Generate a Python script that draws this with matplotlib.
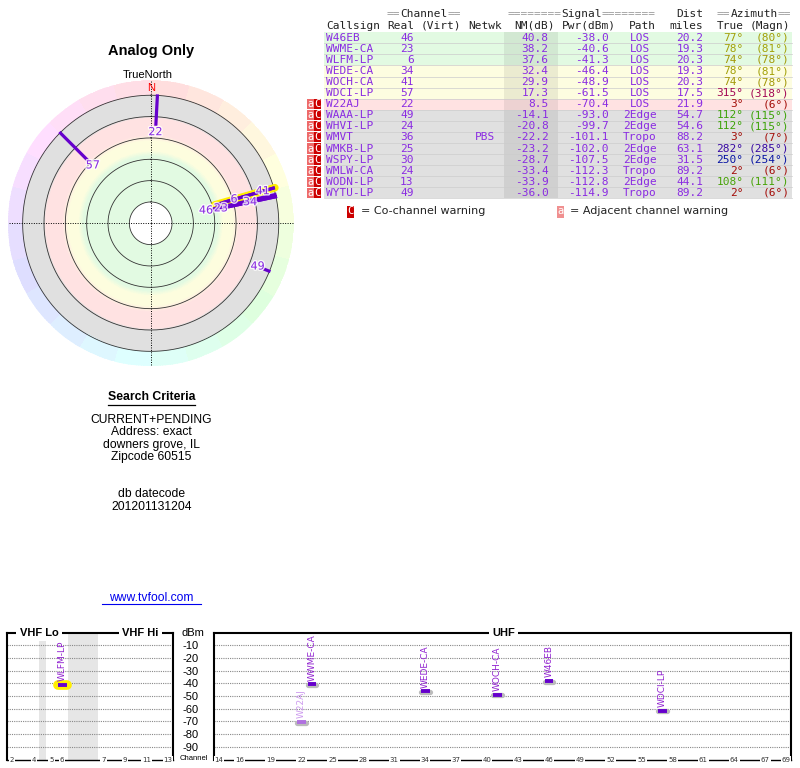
import colorsys
import numpy as np
import matplotlib
matplotlib.use("Agg")
import matplotlib.pyplot as plt
from matplotlib.patches import Rectangle
import matplotlib.patheffects as pe

# ---- station data ----
callsigns = ['W46EB', 'WWME-CA', 'WLFM-LP', 'WEDE-CA', 'WOCH-CA', 'WDCI-LP', 'W22AJ',
             'WAAA-LP', 'WHVI-LP', 'WMVT', 'WMKB-LP', 'WSPY-LP', 'WMLW-CA', 'WODN-LP', 'WYTU-LP']
real_ch = [46, 23, 6, 34, 41, 57, 22, 49, 24, 36, 25, 30, 24, 13, 49]
netwk = ['', '', '', '', '', '', '', '', '', 'PBS', '', '', '', '', '']
nm_db = [40.8, 38.2, 37.6, 32.4, 29.9, 17.3, 8.5, -14.1, -20.8, -22.2, -23.2, -28.7, -33.4, -33.9, -36.0]
pwr_dbm = [-38.0, -40.6, -41.3, -46.4, -48.9, -61.5, -70.4, -93.0, -99.7, -101.1, -102.0,
           -107.5, -112.3, -112.8, -114.9]
path = ['LOS'] * 7 + ['2Edge', '2Edge', 'Tropo', '2Edge', '2Edge', 'Tropo', '2Edge', 'Tropo']
dist_mi = [20.2, 19.3, 20.3, 19.3, 20.3, 17.5, 21.9, 54.7, 54.6, 88.2, 63.1, 31.5, 89.2, 44.1, 89.2]
az_true = [77, 78, 74, 78, 74, 315, 3, 112, 112, 3, 282, 250, 2, 108, 2]
az_magn = [80, 81, 78, 81, 78, 318, 6, 115, 115, 7, 285, 254, 6, 111, 6]
warnings = [''] * 6 + ['aC'] * 9
highlight = 'WLFM-LP'

vhf_ticks = [2, 4, 5, 6, 7, 9, 11, 13]
uhf_ticks = [14, 16, 19, 22, 25, 28, 31, 34, 37, 40, 43, 46, 49, 52, 55, 58, 61, 64, 67, 69]
dbm_ticks = [-10, -20, -30, -40, -50, -60, -70, -80, -90]

criteria = ['CURRENT+PENDING', 'Address: exact', 'downers grove, IL', 'Zipcode 60515']
datecode = ['db datecode', '201201131204']

PURPLE = '#6600cc'
PURPLE_TXT = '#8a2be2'
SANS = 'Liberation Sans'
MONO = 'DejaVu Sans Mono'

W, H = 800, 768
fig = plt.figure(figsize=(8, 7.68), dpi=100)


def px_rect(x0, y0, x1, y1):
    return [x0 / W, (H - y1) / H, (x1 - x0) / W, (y1 - y0) / H]


def row_color(nm):
    if nm >= 35:
        return '#e2fae2'
    if nm >= 15:
        return '#fdfde0'
    if nm >= 0:
        return '#ffe2e2'
    return '#e0e0e0'


# azimuth -> hue, roughly as the report colours it
hue_az = [0, 77, 112, 250, 282, 315, 360]
hue_deg = [0, 58, 100, 235, 258, 330, 360]
def az_color(a):
    h = np.interp(a % 360, hue_az, hue_deg) / 360.0
    return colorsys.hsv_to_rgb(h, 0.95, 0.64)


# ---- overlay in pixel coordinates (table + text) ----
ov = fig.add_axes([0, 0, 1, 1])
ov.set_xlim(0, W)
ov.set_ylim(H, 0)
ov.axis('off')

cw = 0.6021 * 8 * 100 / 72  # mono char width in px
def seg_text(x, y, parts):
    for s, col in parts:
        ov.text(x, y, s, family=MONO, fontsize=8, color=col, ha='left', va='center')
        x += cw * len(s)

seg_text(387, 14, [('==', '#999999'), ('Channel', '#222222'), ('==', '#999999')])
seg_text(508, 14, [('========', '#999999'), ('Signal', '#222222'), ('========', '#999999')])
ov.text(703.5, 14, 'Dist', family=MONO, fontsize=8, color='#222', ha='right', va='center')
seg_text(717, 14, [('==', '#999999'), ('Azimuth', '#222222'), ('==', '#999999')])

hdr_y = 26
for s, x, ha in [('Callsign', 326, 'left'), ('Real', 414, 'right'), ('(Virt)', 421, 'left'),
                 ('Netwk', 485, 'center'), ('NM(dB)', 555, 'right'), ('Pwr(dBm)', 616, 'right'),
                 ('Path', 642, 'center'), ('miles', 703.5, 'right'), ('True', 743.5, 'right'),
                 ('(Magn)', 790, 'right')]:
    ov.text(x, hdr_y, s, family=MONO, fontsize=8, color='#222', ha=ha, va='center')

row_h = 11.07
for i in range(len(callsigns)):
    yc = 37.8 + row_h * i
    top = yc - row_h / 2
    ov.add_patch(Rectangle((324, top), 468, row_h, facecolor=row_color(nm_db[i]),
                           edgecolor='none'))
    ov.add_patch(Rectangle((504, top), 54, row_h, facecolor='black', alpha=0.07,
                           edgecolor='none'))
    ov.plot([324, 792], [top + row_h, top + row_h], color='#cccccc', lw=0.5)
    if warnings[i]:
        ov.add_patch(Rectangle((306.5, top + 0.5), 7, row_h - 1, facecolor='#ee6a6a', edgecolor='none'))
        ov.add_patch(Rectangle((313.5, top + 0.5), 7, row_h - 1, facecolor='#cc0000', edgecolor='none'))
        ov.text(310, yc, 'a', family=MONO, fontsize=7.5, color='white', ha='center', va='center')
        ov.text(317, yc, 'C', family=MONO, fontsize=7.5, color='white', ha='center', va='center')
    kw = dict(family=MONO, fontsize=8, color=PURPLE_TXT, va='center')
    ov.text(326, yc, callsigns[i], ha='left', **kw)
    ov.text(413.5, yc, str(real_ch[i]), ha='right', **kw)
    ov.text(485, yc, netwk[i], ha='center', **kw)
    ov.text(548.5, yc, f'{nm_db[i]:.1f}', ha='right', **kw)
    ov.text(608.5, yc, f'{pwr_dbm[i]:.1f}', ha='right', **kw)
    ov.text(640, yc, path[i], ha='center', **kw)
    ov.text(703.5, yc, f'{dist_mi[i]:.1f}', ha='right', **kw)
    ov.text(743.5, yc, f'{az_true[i]}\u00b0', ha='right', family=MONO, fontsize=8,
            color=az_color(az_true[i]), va='center')
    ov.text(789.5, yc, f'({az_magn[i]}\u00b0)', ha='right', family=MONO, fontsize=8,
            color=az_color(az_true[i]), va='center')

# legend under table
ov.add_patch(Rectangle((347, 205.5), 7, 12, facecolor='#cc0000', edgecolor='none'))
ov.text(350.5, 211.5, 'C', family=MONO, fontsize=7.5, color='white', ha='center', va='center')
ov.text(361, 211.5, '= Co-channel warning', fontsize=8, color='#222', ha='left', va='center')
ov.add_patch(Rectangle((557, 205.5), 7, 12, facecolor='#f09090', edgecolor='none'))
ov.text(560.5, 211.5, 'a', family=MONO, fontsize=7.5, color='white', ha='center', va='center')
ov.text(570, 211.5, '= Adjacent channel warning', fontsize=8, color='#222', ha='left', va='center')

# left column text
ov.text(151, 51, 'Analog Only', family=SANS, fontsize=10.5, fontweight='bold', ha='center', va='center')
ov.text(148, 75, 'TrueNorth', family=SANS, fontsize=8, ha='center', va='center')
ov.text(151.5, 397.5, 'Search Criteria', family=SANS, fontsize=8.8, fontweight='bold',
        ha='center', va='center')
ov.plot([108, 195], [404.5, 404.5], color='black', lw=0.9)
for k, s in enumerate(criteria):
    ov.text(151.5, 420 + 12.4 * k, s, family=SANS, fontsize=8.7, ha='center', va='center')
for k, s in enumerate(datecode):
    ov.text(151.5, 494.3 + 12.4 * k, s, family=SANS, fontsize=8.7, ha='center', va='center')
ov.text(151.5, 598, 'www.tvfool.com', family=SANS, fontsize=8.7, color='#0000ee', ha='center', va='center')
ov.plot([102, 201], [604, 604], color='#0000ee', lw=0.8)

# ---- polar radar plot ----
pax = fig.add_axes(px_rect(150.7 - 143, 223.3 - 143, 150.7 + 143, 223.3 + 143), projection='polar')
pax.set_theta_zero_location('N')
pax.set_theta_direction(-1)
RMAX = 134
pax.set_ylim(0, RMAX)
pax.grid(False)
pax.set_xticks([])
pax.set_yticks([])
pax.spines['polar'].set_visible(False)

def rho(nm):
    return 100.0 - nm

# radial background bands, coloured by noise margin
green, yellow, pink, grey = (np.array(c) / 255 for c in
                             ([226, 250, 226], [253, 253, 222], [255, 226, 226], [224, 224, 224]))
stop_nm = [80, 37, 32, 23, 17, 1.5, 0, -20]
stop_c = [green, green, yellow, yellow, pink, pink, grey, grey]
th_edges = np.radians(np.arange(0, 361, 1.0))
r_edges = np.arange(20, 120.01, 0.5)
r_mid = 0.5 * (r_edges[:-1] + r_edges[1:])
nm_mid = 100 - r_mid
rgb = np.stack([np.interp(-nm_mid, [-s for s in stop_nm], [c[j] for c in stop_c]) for j in range(3)], -1)
C = np.repeat(rgb[:, None, :], len(th_edges) - 1, axis=1)
pax.pcolormesh(th_edges, r_edges, C, shading='flat', antialiased=False, zorder=0)

# outer azimuth colour wheel
nseg = 24
seg = np.floor(np.degrees(th_edges[:-1]) / (360 / nseg)) * (360 / nseg)
ring = np.array([colorsys.hsv_to_rgb(a / 360, 0.13, 1.0) for a in seg])
ring_r = np.array([120, RMAX])
pax.pcolormesh(th_edges, ring_r, ring[None, :, :], shading='flat', antialiased=False, zorder=0)

circ = np.linspace(0, 2 * np.pi, 361)
for rr in [20, 40, 60, 80, 100, 120]:
    pax.plot(circ, np.full_like(circ, rr), color='#333333', lw=0.6, zorder=2)
for t in [0, 90, 180, 270]:
    pax.plot([np.radians(t)] * 2, [0, RMAX], color='black', lw=0.7, ls=(0, (1, 1.5)), zorder=2)
pax.text(0, 127, 'N', color='red', fontsize=8, family=SANS, ha='center', va='center', zorder=3)

shown = [i for i in range(len(callsigns)) if nm_db[i] > -20]
labels_r = {}
for i in sorted(shown, key=lambda j: rho(nm_db[j])):
    th = np.radians(az_true[i])
    r_in = rho(nm_db[i])
    if callsigns[i] == highlight:
        pax.plot([th, th], [r_in, 121], color='#ffee00', lw=5.5, solid_capstyle='round', zorder=4)
    pax.plot([th, th], [r_in, 121], color=PURPLE, lw=2.3, solid_capstyle='butt', zorder=5)
    lr = r_in - 6
    for j, r_prev in labels_r.items():
        if abs(az_true[j] - az_true[i]) < 10:
            lr = max(lr, r_prev + 14)
    labels_r[i] = lr
for i, lr in labels_r.items():
    pax.text(np.radians(az_true[i]), lr, str(real_ch[i]), color=PURPLE_TXT, fontsize=8,
             ha='center', va='center', zorder=6,
             path_effects=[pe.withStroke(linewidth=2, foreground='white', alpha=0.8)])

# ---- spectrum panels ----
def vhf_x(ch):
    if ch <= 4:
        return 54 + 6 * (ch - 2) + 3
    if ch <= 6:
        return 76 + 6 * (ch - 5) + 3
    return 174 + 6 * (ch - 7) + 3 - 69

vax = fig.add_axes(px_rect(6.7, 632.5, 173.3, 759.5))
uax = fig.add_axes(px_rect(214, 632.5, 791, 759.5))
vax.set_xlim(54, 147)
uax.set_xlim(13.5, 69.5)
for ax in (vax, uax):
    ax.set_ylim(-100, 0)
    for s in ax.spines.values():
        s.set_linewidth(1.5)
        s.set_color('black')
    ax.spines['bottom'].set_linewidth(1.0)
    ax.set_xticks([])
    for g in dbm_ticks:
        ax.axhline(g, color='#888888', lw=0.8, ls=(0, (1, 1)), zorder=1)
vax.set_yticks([])
uax.set_yticks(dbm_ticks)
uax.set_yticklabels([str(v) for v in dbm_ticks], family=SANS, fontsize=8)
uax.tick_params(axis='y', length=0, pad=11)

vax.axvspan(72, 76, color='#e6e6e6', lw=0, zorder=0)
vax.axvspan(88, 105, color='#e6e6e6', lw=0, zorder=0)

for ch in vhf_ticks:
    vax.text(vhf_x(ch), -100, str(ch), fontsize=5, color='#333', ha='center', va='center',
             bbox=dict(facecolor='white', edgecolor='none', pad=0.6), clip_on=False, zorder=5)
for ch in uhf_ticks:
    uax.text(ch, -100, str(ch), fontsize=5, color='#333', ha='center', va='center',
             bbox=dict(facecolor='white', edgecolor='none', pad=0.6), clip_on=False, zorder=5)

tkw = dict(family=SANS, fontsize=8, fontweight='bold', ha='center', va='center', clip_on=False,
           bbox=dict(facecolor='white', edgecolor='none', pad=2.5), zorder=5)
vax.text(72.2, 0, 'VHF Lo', **tkw)
vax.text(128.5, 0, 'VHF Hi', **tkw)
uax.text(41.6, 0, 'UHF', **tkw)
ov.text(193, 633, 'dBm', family=SANS, fontsize=8, ha='center', va='center')
ov.text(194, 758, 'Channel', family=SANS, fontsize=5.5, ha='center', va='center')

for i in range(len(callsigns)):
    if nm_db[i] <= 0:
        continue
    ch = real_ch[i]
    if ch <= 13:
        ax, x, hw = vax, vhf_x(ch), 2.4
    else:
        ax, x, hw = uax, ch, 0.42
    light = nm_db[i] < 15
    bar_c = '#b070e0' if light else PURPLE
    txt_c = '#cc99ee' if light else '#9020d0'
    if callsigns[i] == highlight:
        ax.plot([x - hw, x + hw], [pwr_dbm[i]] * 2, color='#ffee00', lw=7,
                solid_capstyle='round', zorder=3)
    else:
        ax.plot([x - hw, x + hw], [pwr_dbm[i] - 0.6] * 2, color='#bbbbbb', lw=3.8,
                solid_capstyle='round', zorder=3)
    ax.plot([x - hw, x + hw], [pwr_dbm[i]] * 2, color=bar_c, lw=2.8, solid_capstyle='butt', zorder=4)
    ax.text(x, pwr_dbm[i] + 2.8, callsigns[i], rotation=90, fontsize=6.5, color=txt_c,
            ha='center', va='bottom', clip_on=False, zorder=4)

fig.savefig('out.png', dpi=100, facecolor='white')
